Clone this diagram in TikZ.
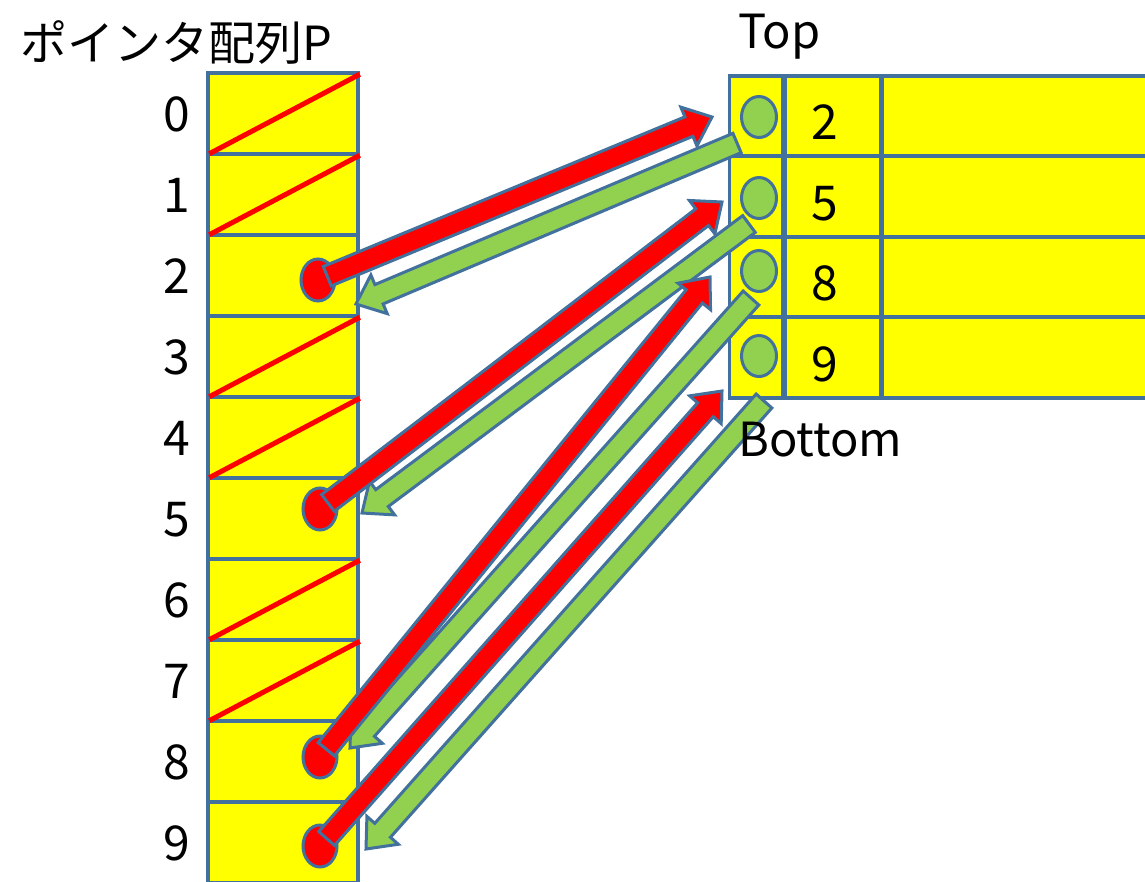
\documentclass[tikz,border=0pt]{standalone}
\usepackage{fontspec}
\setmainfont{Noto Sans CJK JP}
\usetikzlibrary{calc,shapes.geometric}
\definecolor{edgeb}{HTML}{41719C}
\definecolor{cellY}{HTML}{FFFF00}
\definecolor{greenF}{HTML}{92D050}
\definecolor{redF}{HTML}{FF0000}
\tikzset{
  cellbox/.style={draw=edgeb, fill=cellY, line width=3.5pt, rectangle, inner sep=0pt},
  redc/.style={draw=edgeb, fill=redF, line width=3pt, ellipse, minimum width=34pt, minimum height=42pt, inner sep=0pt},
  greenc/.style={draw=edgeb, fill=greenF, line width=3pt, ellipse, minimum width=35pt, minimum height=41pt, inner sep=0pt},
  slash/.style={draw=redF, line width=5pt},
  lbl/.style={font=\fontsize{48}{50}\selectfont, anchor=base, inner sep=0pt},
  ttl/.style={font=\fontsize{47}{49}\selectfont, anchor=base west, inner sep=0pt},
  arrowbody/.style={draw=edgeb, line width=3pt, line join=miter},
}
% block arrow: fill colour, start coordinate, end coordinate
\newcommand\blkarrow[3]{%
  \coordinate (hbX) at ($(#3)!25pt!(#2)$);
  \filldraw[arrowbody, fill=#1]
    ($(#2)!10.5pt!90:(#3)$) -- ($(hbX)!10.5pt!-90:(#2)$) -- ($(hbX)!21pt!-90:(#2)$)
    -- (#3) -- ($(hbX)!21pt!90:(#2)$) -- ($(hbX)!10.5pt!90:(#2)$)
    -- ($(#2)!10.5pt!-90:(#3)$) -- cycle;
}
\begin{document}
\begin{tikzpicture}[x=1pt,y=-1pt]
\useasboundingbox (0,0) rectangle (1145,881);
\clip (0,0) rectangle (1145,881);
\fill[white] (0,0) rectangle (1145,881);

% left pointer array
\foreach \i in {0,...,9} {
  \node[cellbox, minimum width=150pt, minimum height=81pt] (p\i) at (283,{113.5+81*\i}) {};
}
\foreach \i in {0,1,3,4,6,7} {
  \draw[slash] ($(p\i.south west)+(3,-2)$) -- ($(p\i.north east)+(0,3)$);
}

% right structure
\foreach \k/\t/\b in {0/76/156, 1/156/237, 2/237/317, 3/317/398} {
  \node[cellbox, minimum width=53pt, minimum height={\b-\t}] (s\k) at (756,{(\t+\b)/2}) {};
  \node[cellbox, minimum width=95pt, minimum height={\b-\t}] (m\k) at (833,{(\t+\b)/2}) {};
  \node[cellbox, minimum width=300pt, minimum height={\b-\t}, anchor=west] (w\k) at (880,{(\t+\b)/2}) {};
}
\node[greenc] (g0) at (759,117) {};
\node[greenc] (g1) at (759,198) {};
\node[greenc] (g2) at (759,271) {};
\node[greenc] (g3) at (759,356) {};

% red circles
\node[redc] (rc2) at (318,280) {};
\node[redc] (rc5) at (320,509) {};
\node[redc] (rc8) at (320,757) {};
\node[redc] (rc9) at (320,846) {};

% arrow end points
\coordinate (rt1) at (712,117);
\coordinate (rt2) at (722,202);
\coordinate (rt3) at (710,277);
\coordinate (rt4) at (722,391);
\coordinate (gs1) at (737,143);
\coordinate (gs2) at (749,224);
\coordinate (gs3) at (751,298);
\coordinate (gs4) at (764,401);
\coordinate (gt1) at (356,304);
\coordinate (gt2) at (362,513);
\coordinate (gt3) at (350,748);
\coordinate (gt4) at (366,849);
\coordinate (rs1) at ($(rc2)!10pt!(rt1)$);
\coordinate (rs2) at ($(rc5)!10pt!(rt2)$);
\coordinate (rs3) at ($(rc8)!10pt!(rt3)$);
\coordinate (rs4) at ($(rc9)!10pt!(rt4)$);

% green arrows (back)
\blkarrow{greenF}{gs1}{gt1}
\blkarrow{greenF}{gs2}{gt2}
\blkarrow{greenF}{gs3}{gt3}
\blkarrow{greenF}{gs4}{gt4}
% red arrows (forward)
\blkarrow{redF}{rs1}{rt1}
\blkarrow{redF}{rs2}{rt2}
\blkarrow{redF}{rs3}{rt3}
\blkarrow{redF}{rs4}{rt4}

% texts
\node[ttl] (title) at (20,60) {ポインタ配列P};
\foreach \i in {0,...,9} {
  \node[lbl] (n\i) at (177,{131+81*\i}) {\i};
}
\foreach \k/\t/\b/\v in {0/76/156/2, 1/156/237/5, 2/237/317/8, 3/317/398/9} {
  \node[lbl] (v\k) at (825,{(\t+\b)/2+23.5}) {\v};
}
\node[ttl] (top) at (738,48) {Top};
\node[ttl] (bottom) at (738,456) {Bottom};
\end{tikzpicture}
\end{document}
